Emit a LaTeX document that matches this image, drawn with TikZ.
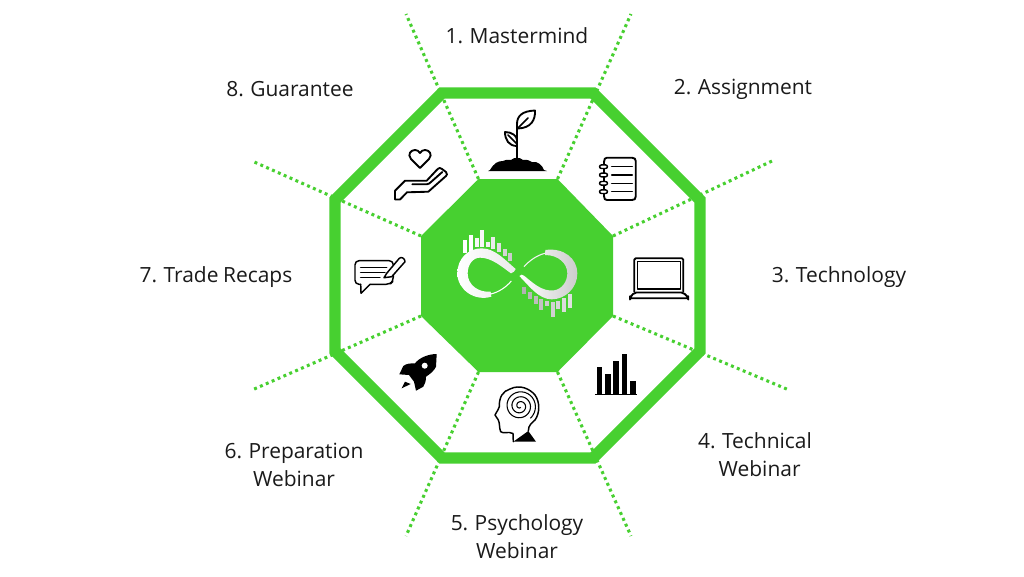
\documentclass[tikz,border=0pt]{standalone}
\usepackage{fontspec}
\setmainfont{Open Sans}
\definecolor{gr}{HTML}{47D030}
\definecolor{ink}{HTML}{1A1A1A}
\newcommand{\labfont}{\fontsize{15.7}{21}\selectfont\setlength{\spaceskip}{0.22em}}
\tikzset{
  lab/.style={text=ink,align=center,inner sep=0pt,font=\labfont},
  dotline/.style={gr,line width=2.3pt,dash pattern=on 2.2pt off 2.6pt},
  icon/.style={black,line width=1.4pt,line join=round,line cap=round},
  iconthin/.style={black,line width=1.1pt,line join=round,line cap=round},
}
\begin{document}
\begin{tikzpicture}[x=0.75pt,y=-0.75pt]
\useasboundingbox[fill=white] (0,0) rectangle (1024,576);
% outer vertices
\coordinate (o1) at (442,93);\coordinate (o2) at (593,93);
\coordinate (o3) at (700,200);\coordinate (o4) at (700,351);
\coordinate (o5) at (593,458);\coordinate (o6) at (442,458);
\coordinate (o7) at (335,351);\coordinate (o8) at (335,200);
% inner vertices
\coordinate (i1) at (478.5,179);\coordinate (i2) at (557.5,179);
\coordinate (i3) at (613,236);\coordinate (i4) at (613,316);
\coordinate (i5) at (557.5,372);\coordinate (i6) at (478.5,372);
\coordinate (i7) at (421,316);\coordinate (i8) at (421,236);
% free ends
\coordinate (e1) at (406,14);\coordinate (e2) at (631,14);
\coordinate (e3) at (772,161);\coordinate (e4) at (789,390);
\coordinate (e5) at (631,536);\coordinate (e6) at (406,536);
\coordinate (e7) at (252,390);\coordinate (e8) at (252,161);
\foreach \k in {1,...,8}{\draw[dotline] (i\k) -- (e\k);}
\draw[gr,line width=8.6pt,miter limit=10] (o1)--(o2)--(o3)--(o4)--(o5)--(o6)--(o7)--(o8)--cycle;
\fill[gr] (i1)--(i2)--(i3)--(i4)--(i5)--(i6)--(i7)--(i8)--cycle;
% labels
\node[lab] (l1) at (517,36) {1. Mastermind};
\node[lab] (l2) at (743,89.5) {2. Assignment};
\node[lab] (l3) at (839,277.5) {3. Technology};
\node[lab] (l4) at (755,455) {4. Technical\\\ \ Webinar};
\node[lab] (l5) at (517,537) {5. Psychology\\Webinar};
\node[lab] (l6) at (294,465) {6. Preparation\\Webinar};
\node[lab] (l7) at (216,277.5) {7. Trade Recaps};
\node[lab] (l8) at (290,89) {8. Guarantee};
% sprout
\fill[black] (488,171) -- (490,170) .. controls (494,163) and (498,161) .. (503,161)
 .. controls (507,159) and (510,160) .. (511,160) .. controls (514,157) and (520,157) .. (523,160)
 .. controls (527,159) and (530,161) .. (532,162) .. controls (538,161) and (542,165) .. (544,170)
 -- (547,171) -- cycle;
\draw[icon] (517,158) -- (517,124) .. controls (517,116) and (522,111) .. (535,110.5)
 .. controls (535.5,120) and (531,128) .. (518,128.5);
\draw[iconthin] (518,128) -- (528,118);
\draw[icon] (517,146) .. controls (509,146) and (505,140) .. (505,132) .. controls (512,132) and (517,136) .. (517,140);
\draw[iconthin] (508,135) -- (517,144);
% heart
\draw[icon] (420,168) -- (411,159) .. controls (407,154) and (411,150) .. (415,150)
 .. controls (417,150) and (419,151) .. (420,153) .. controls (421,151) and (423,150) .. (425,150)
 .. controls (429,150) and (433,154) .. (429,159) -- cycle;
% hand
\draw[icon] (400,199.5) -- (395,199.5) -- (395,190.7) -- (405,180.7) -- (426.7,180.7) -- (436.7,170)
 .. controls (439,167.5) and (441,167.5) .. (442,169) -- (446,172) .. controls (447.5,174) and (447,175) .. (446,176)
 -- (428.3,191.7) -- (407,192.3) -- cycle;
\draw[icon] (412.3,184.3) -- (426.7,184.3) .. controls (428.5,184.3) and (430,183) .. (431,182) -- (442.3,172);
% notebook
\draw[icon] (604,162) .. controls (604,159) and (605,157.7) .. (607,157.7) -- (632,157.7)
 .. controls (634.5,157.7) and (635.7,159) .. (635.7,161) -- (635.7,196.5)
 .. controls (635.7,199) and (634.5,200) .. (632,200) -- (607,200) .. controls (605,200) and (604,199) .. (604,196);
\draw[icon] (604,162) -- (604,196);
\foreach \yy in {166.7,175,183.3,191.7}{
 \draw[iconthin,fill=white,rounded corners=1.5pt] (599.5,\yy-1.8) rectangle (607.5,\yy+1.8);
 \draw[iconthin] (611.7,\yy) -- (632.3,\yy);
}
% laptop
\draw[icon,rounded corners=1pt] (634.3,291.7) -- (634.3,258.3) -- (683.3,258.3) -- (683.3,291.7);
\draw[iconthin] (637.7,289) rectangle (680.7,261.7);
\draw[icon,rounded corners=1.5pt] (634.3,292.5) -- (683.3,292.5) -- (688.3,297.5) -- (688.3,298.3) -- (630,298.3) -- (630,297.5) -- cycle;
% bars
\fill[black] (596.7,367.3) rectangle (602.3,394.3);
\fill[black] (605,374.3) rectangle (610.7,394.3);
\fill[black] (613.3,361.3) rectangle (619,394.3);
\fill[black] (621.7,354) rectangle (627.3,394.3);
\fill[black] (630,381.3) rectangle (635.7,394.3);
\draw[black,line width=0.8pt] (595.3,394.5) -- (636.7,394.5);
% head
\draw[iconthin] (513.3,441.7) -- (513,433.5) .. controls (508,431) and (503,434) .. (500.7,431.7)
 .. controls (499,428) and (500,423) .. (498.3,420) -- (495,415)
 .. controls (497,411) and (499,409) .. (499.3,406.7) .. controls (499,397) and (503,391) .. (510,389)
 .. controls (520,384) and (530,389) .. (535,395) .. controls (540,402) and (540,413) .. (535,420)
 .. controls (532,423) and (528.3,425) .. (528.3,431);
\fill[black] (513.3,441.7) -- (528.3,431) -- (536,441.7) -- cycle;
\draw[black,line width=0.8pt,smooth] plot[domain=60:1130,samples=90] ({520+(0.6+\x/1130*15.5)*cos(\x)},{406+(0.6+\x/1130*15.5)*sin(\x)});
% rocket
\fill[black] (436.7,354) -- (436,366.7) .. controls (434,371) and (430,374) .. (426,376.7)
 .. controls (426,381) and (425,384) .. (423.3,386.7) -- (416,390.7) -- (414,381.7) -- (409,375)
 -- (399.3,374.3) -- (403.3,366) .. controls (407,363) and (411,363.5) .. (415,363.3)
 .. controls (419,358) and (428,354) .. (436.7,354) -- cycle;
\fill[white] (424.7,365.7) circle (3);
\fill[black] (401.7,388.3) -- (405,381.7) -- (410.7,384) -- cycle;
% message + pencil
\draw[iconthin,rounded corners=3pt] (370,284.3) -- (390,284.3) -- (393.3,281) -- (393.3,260.7) -- (355,260.7) -- (355,284.3) -- (360.7,284.3);
\draw[iconthin] (360.7,284.3) -- (361,293.3) -- (370,284.3);
\draw[iconthin] (360.7,267.3) -- (386.7,267.3) (360.7,272.7) -- (385,272.7) (360.7,277.7) -- (380,277.7);
\draw[iconthin,fill=white] (384,277.7) -- (386.7,273.3) -- (399.3,258.3) .. controls (401,256.5) and (405,258) .. (405,261.7) -- (391.7,276.7) -- cycle;
% logo
\begin{scope}[shift={(400,170)},scale=1/3]
\foreach \xa/\ya/\yb/\cc in {190/210/250/100,207/195/245/100,224/205/232/97,240/180/232/97,258/215/232/95,274/200/238/92,291/218/245/88,308/237/258/84,325/250/272/80}
 {\fill[white!\cc!black] (\xa,\ya) rectangle (\xa+12,\yb);}
\foreach \xa/\ya/\yb/\cc in {366/350/372/70,384/367/387/72,401/378/403/74,418/388/420/76,435/393/407/80,452/395/440/82,469/393/417/84,486/385/426/86,503/372/414/88}
 {\fill[white!\cc!black] (\xa,\ya) rectangle (\xa+12,\yb);}
\shade[left color=white,right color=white!92!black] (347,297) .. controls (345,303) and (340,308) .. (333,310)
 .. controls (305,290) and (275,263) .. (240,263) .. controls (218,263) and (203,285) .. (203,310)
 .. controls (203,345) and (235,368) .. (272,365) -- (274,380)
 .. controls (225,395) and (172,360) .. (172,310) .. controls (172,265) and (205,235) .. (245,235)
 .. controls (285,235) and (315,270) .. (347,297) -- cycle;
\draw[white,line width=0.8pt] (272,372) .. controls (295,367) and (318,352) .. (334,333);
\shade[left color=white,right color=white!80!black] (358,318) .. controls (363,312) and (367,314) .. (372,317)
 .. controls (395,335) and (425,366) .. (462,361) .. controls (485,358) and (502,335) .. (502,310)
 .. controls (502,280) and (475,255) .. (435,255) -- (436,240)
 .. controls (490,232) and (532,265) .. (532,310) .. controls (532,355) and (495,388) .. (455,388)
 .. controls (415,388) and (385,345) .. (358,318) -- cycle;
\draw[white!95!black,line width=0.8pt] (435,250) .. controls (412,255) and (388,272) .. (372,290);
\end{scope}
\end{tikzpicture}
\end{document}
